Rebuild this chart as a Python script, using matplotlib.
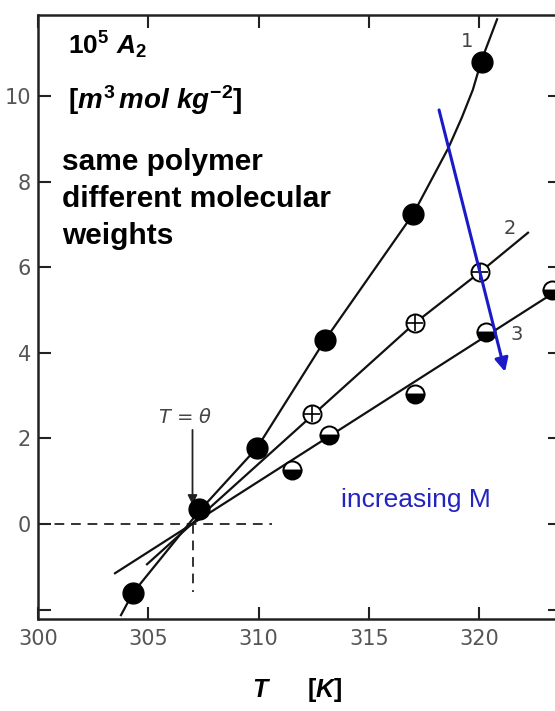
import matplotlib
matplotlib.use("Agg")
import matplotlib.pyplot as plt
import numpy as np

plt.rcParams['mathtext.fontset'] = 'custom'
plt.rcParams['mathtext.rm'] = 'Liberation Sans:bold'
plt.rcParams['mathtext.it'] = 'Liberation Sans:bold:italic'
plt.rcParams['mathtext.bf'] = 'Liberation Sans:bold'

# ---- data ----
# series 1 (filled circles) and its fitted curve
s1_T = [304.3, 307.3, 309.9, 313.0, 317.0, 320.1]
s1_A = [-1.61, 0.35, 1.78, 4.30, 7.25, 10.8]
c1_T = [303.76, 304.3, 307.3, 309.92, 313.0, 317.0, 317.9, 318.6, 319.2, 319.7, 320.1, 320.8]
c1_A = [-2.13, -1.61, 0.30, 1.78, 4.30, 7.25, 8.12, 8.80, 9.50, 10.15, 10.85, 11.8]
# series 2 (crossed circles) and its line
s2_T = [312.4, 317.08, 320.03]
s2_A = [2.57, 4.70, 5.89]
l2_T = [304.94, 317.08, 320.03, 322.2]
l2_A = [-0.94, 4.70, 5.89, 6.81]
# series 3 (half-filled circles) and its line
s3_T = [311.5, 313.2, 317.1, 320.3, 323.3]
s3_A = [1.26, 2.08, 3.05, 4.49, 5.47]
l3_T = [303.49, 323.65]
l3_A = [-1.15, 5.50]

theta = 307.0
x_ticks = [300, 305, 310, 315, 320]
y_ticks = [-2, 0, 2, 4, 6, 8, 10]
y_ticklabels = ['', '0', '2', '4', '6', '8', '10']

W, H = 555, 711
fig = plt.figure(figsize=(W / 100, H / 100), dpi=100)
fig.patch.set_facecolor('white')
ax = fig.add_axes([38 / W, 1 - 619 / H, (560 - 38) / W, (619 - 15) / H])
ax.set_xlim(300, 323.65)
ax.set_ylim(-2.22, 11.9)

for sp in ax.spines.values():
    sp.set_linewidth(1.8)
    sp.set_color('#222222')

ax.set_xticks(x_ticks)
ax.set_yticks(y_ticks)
ax.set_yticklabels(y_ticklabels)
ax.tick_params(direction='in', length=9, width=1.5, top=True, right=True,
               labelsize=15, labelcolor='#555555', color='#222222')
ax.tick_params(axis='x', pad=7)
ax.tick_params(axis='y', pad=5)

lc = '#111111'
# curves
ax.plot(c1_T, c1_A, color=lc, lw=1.6, zorder=2)
ax.plot(l2_T, l2_A, color=lc, lw=1.6, zorder=2)
ax.plot(l3_T, l3_A, color=lc, lw=1.6, zorder=2)

# markers
ax.plot(s1_T, s1_A, 'o', ms=15, color='black', zorder=4)
ax.plot(s2_T, s2_A, 'o', ms=13, mfc='white', mec='black', mew=1.4, zorder=4)
ax.plot(s2_T, s2_A, '+', ms=12, mec='black', mew=1.2, zorder=5)
ax.plot(s3_T, s3_A, 'o', ms=13, fillstyle='bottom', mfc='black',
        markerfacecoloralt='white', mec='black', mew=1.4, zorder=4)

# dashed guides
ax.plot([300, 310.6], [0, 0], ls=(0, (5, 3.5)), color='#333333', lw=1.4, zorder=1)
ax.plot([theta, theta], [0, -1.6], ls=(0, (5, 3.5)), color='#333333', lw=1.4, zorder=1)

# T = theta arrow
ax.annotate('', xy=(theta, 0.45), xytext=(theta, 2.2),
            arrowprops=dict(arrowstyle='-|>', color='#222222', lw=1.3,
                            mutation_scale=14, shrinkA=0, shrinkB=0))
ax.text(306.66, 2.5, r'$T$ = $\theta$', ha='center', va='center', fontsize=14,
        color='#444444', family='DejaVu Sans', math_fontfamily='dejavusans')

# curve labels
ax.text(319.44, 11.27, '1', fontsize=14, color='#444444', ha='center', va='center')
ax.text(321.39, 6.92, '2', fontsize=14, color='#444444', ha='center', va='center')
ax.text(321.7, 4.42, '3', fontsize=14, color='#444444', ha='center', va='center')

# blue arrow
blue = '#1a1ac8'
ax.annotate('', xy=(321.16, 3.56), xytext=(318.17, 9.68),
            arrowprops=dict(arrowstyle='-|>', color=blue, lw=2.2,
                            mutation_scale=20, shrinkA=0, shrinkB=0), zorder=6)
ax.text(313.73, 0.56, 'increasing M', fontsize=19, color='#2323c0',
        family='Liberation Sans', ha='left', va='center')

# annotation texts
ax.text(301.36, 11.2, r'$\mathrm{10^5}\ A_{2}$', fontsize=19, color='black',
        ha='left', va='center')
ax.text(301.36, 9.92, r'$\mathrm{[}m^{3}\,mol\ kg^{-2}\mathrm{]}$', fontsize=20,
        color='black', ha='left', va='center')
ax.text(301.09, 8.8, 'same polymer\ndifferent molecular\nweights', fontsize=21.5,
        fontweight='bold', family='Liberation Sans', color='black',
        ha='left', va='top', linespacing=1.42)

fig.text(262 / W, 1 - 690 / H, r'$T$', fontsize=18, ha='center', va='center')
fig.text(325 / W, 1 - 690 / H, r'$\mathrm{[}K\mathrm{]}$', fontsize=18,
         ha='center', va='center')

fig.savefig('out.png', dpi=100, facecolor='white')
